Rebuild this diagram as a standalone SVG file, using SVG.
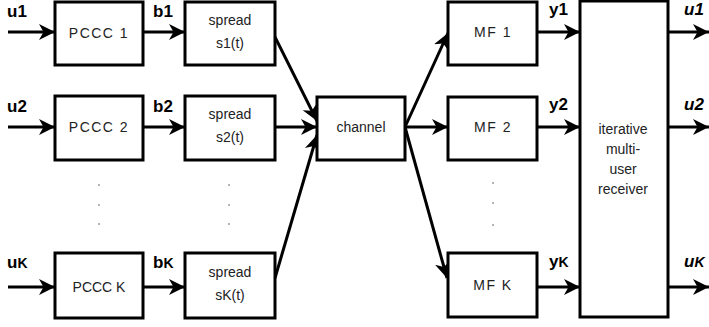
<svg xmlns="http://www.w3.org/2000/svg" width="709" height="327" viewBox="0 0 709 327">
<style>
.box{fill:#fff;stroke:#000;stroke-width:3}
.t{font-family:"Liberation Sans",Arial,sans-serif;font-size:14px;fill:#222;text-anchor:middle}
.ts{letter-spacing:1.5px}
.lb{font-family:"Liberation Sans",Arial,sans-serif;font-size:17px;font-weight:bold;fill:#000}
.lbi{font-style:italic}
.c{stroke:#000;stroke-width:3;fill:none;marker-end:url(#ah)}
.dot{fill:#555}
</style>
<defs>
<marker id="ah" markerUnits="userSpaceOnUse" markerWidth="18" markerHeight="18" refX="16" refY="8" orient="auto">
<path d="M0,0 L16,8 L0,16 L4.5,8 z" fill="#000"/>
</marker>
</defs>
<rect width="709" height="327" fill="#fff"/>
<g id="connectors">
<line class="c" x1="8" y1="32" x2="55" y2="32"/>
<line class="c" x1="8" y1="127" x2="55" y2="127"/>
<line class="c" x1="8" y1="287" x2="55" y2="287"/>
<line class="c" x1="143" y1="32" x2="185" y2="32"/>
<line class="c" x1="143" y1="127" x2="185" y2="127"/>
<line class="c" x1="143" y1="287" x2="185" y2="287"/>
<line class="c" x1="275" y1="37" x2="317" y2="121"/>
<line class="c" x1="275" y1="127" x2="317" y2="127"/>
<line class="c" x1="275" y1="278" x2="317" y2="135"/>
<line class="c" x1="405" y1="127" x2="448" y2="33"/>
<line class="c" x1="405" y1="127" x2="448" y2="127"/>
<line class="c" x1="405" y1="127" x2="447" y2="278"/>
<line class="c" x1="537" y1="32" x2="580" y2="32"/>
<line class="c" x1="537" y1="127" x2="580" y2="127"/>
<line class="c" x1="537" y1="287" x2="580" y2="287"/>
<line class="c" x1="668" y1="32" x2="709" y2="32"/>
<line class="c" x1="668" y1="127" x2="709" y2="127"/>
<line class="c" x1="668" y1="287" x2="709" y2="287"/>
</g>
<g id="labels">
<text class="lb" x="7" y="17">u1</text>
<text class="lb" x="7" y="112">u2</text>
<text class="lb" x="7" y="268">u<tspan font-size="14">K</tspan></text>
<text class="lb" x="153" y="17">b1</text>
<text class="lb" x="153" y="112">b2</text>
<text class="lb" x="153" y="268">b<tspan font-size="14">K</tspan></text>
<text class="lb" x="549" y="15">y1</text>
<text class="lb" x="549" y="110">y2</text>
<text class="lb" x="549" y="267">y<tspan font-size="14">K</tspan></text>
<text class="lb lbi" x="684" y="15">u1</text>
<text class="lb lbi" x="684" y="110">u2</text>
<text class="lb lbi" x="684" y="267">u<tspan font-size="14">K</tspan></text>
</g>
<g id="pccc1"><rect class="box" x="55" y="2" width="88" height="63"/><text class="t ts" x="99" y="38">PCCC 1</text></g>
<g id="pccc2"><rect class="box" x="55" y="96" width="88" height="64"/><text class="t ts" x="99" y="132">PCCC 2</text></g>
<g id="pccck"><rect class="box" x="55" y="253" width="88" height="65"/><text class="t" x="99" y="292">PCCC K</text></g>
<g id="spread1"><rect class="box" x="185" y="2" width="90" height="63"/><text class="t" x="230" y="25">spread</text><text class="t" x="230" y="48">s1(t)</text></g>
<g id="spread2"><rect class="box" x="185" y="96" width="90" height="64"/><text class="t" x="230" y="119">spread</text><text class="t" x="230" y="142">s2(t)</text></g>
<g id="spreadk"><rect class="box" x="185" y="253" width="90" height="65"/><text class="t" x="230" y="277">spread</text><text class="t" x="230" y="300">sK(t)</text></g>
<g id="channel"><rect class="box" x="317" y="97" width="88" height="63"/><text class="t" x="361" y="132">channel</text></g>
<g id="mf1"><rect class="box" x="448" y="2" width="89" height="63"/><text class="t ts" x="493" y="37">MF 1</text></g>
<g id="mf2"><rect class="box" x="448" y="97" width="89" height="63"/><text class="t ts" x="493" y="132">MF 2</text></g>
<g id="mfk"><rect class="box" x="448" y="253" width="89" height="64"/><text class="t ts" x="493" y="290">MF K</text></g>
<g id="receiver"><rect class="box" x="580" y="1" width="88" height="316"/>
<text class="t" x="623" y="134">iterative</text><text class="t" x="623" y="154">multi-</text><text class="t" x="623" y="174">user</text><text class="t" x="623" y="194">receiver</text></g>
<g id="dots">
<circle class="dot" cx="99" cy="185" r="0.8"/><circle class="dot" cx="99" cy="205" r="0.8"/><circle class="dot" cx="99" cy="224" r="0.8"/>
<circle class="dot" cx="229" cy="185" r="0.8"/><circle class="dot" cx="229" cy="205" r="0.8"/><circle class="dot" cx="229" cy="224" r="0.8"/>
<circle class="dot" cx="493" cy="183" r="0.8"/><circle class="dot" cx="493" cy="203" r="0.8"/><circle class="dot" cx="493" cy="225" r="0.8"/>
</g>
</svg>
